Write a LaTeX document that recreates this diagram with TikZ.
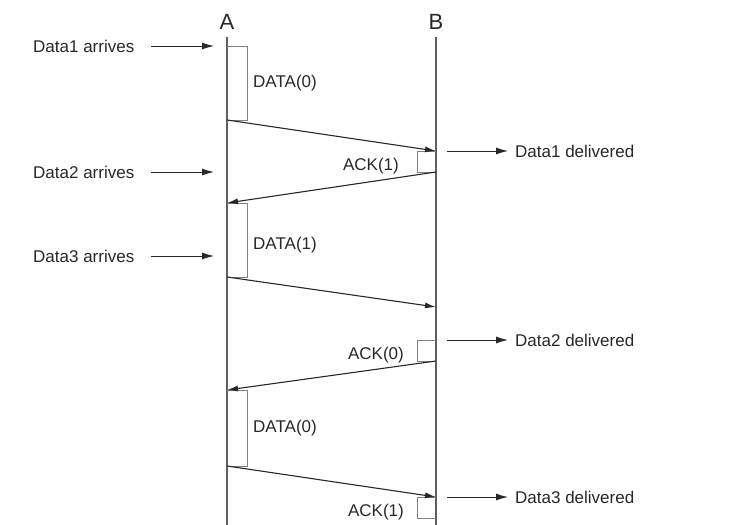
\documentclass[tikz,border=0pt]{standalone}
\usepackage{fontspec}
\setmainfont{Liberation Sans}
\definecolor{inkgray}{RGB}{40,40,40}
\definecolor{linegray}{RGB}{95,95,95}
\definecolor{boxgray}{RGB}{130,130,130}
\usetikzlibrary{arrows.meta,positioning}

\begin{document}
\begin{tikzpicture}[x=1pt, y=-1pt,
      life/.style={draw=linegray, line width=1.8pt},
      msg/.style={-{Latex[length=11pt,width=6pt]}, draw=inkgray, line width=1.1pt},
      note/.style={-{Latex[length=12pt,width=7pt]}, draw=inkgray, line width=0.9pt},
      hold/.style={draw=boxgray, line width=1pt},
      lbl/.style={font=\fontsize{17}{20}\selectfont, text=inkgray, inner sep=0pt},
      head/.style={font=\fontsize{22}{24}\selectfont, text=inkgray, inner sep=0pt}
    ]
    \useasboundingbox (0,0) rectangle (732,525);
    % the two stations
    \node[head] (A) at (227,22) {A};
    \node[head] (B) at (436,22) {B};
    \coordinate (Atop) at (227,37);  \coordinate (Abot) at (227,527);
    \coordinate (Btop) at (436,37);  \coordinate (Bbot) at (436,527);
    \draw[life] (Atop) -- (Abot);
    \draw[life] (Btop) -- (Bbot);

    % points on A: send windows and arrivals
    \coordinate (s1) at (227,46);   \coordinate (s1x) at (227,120);
    \coordinate (s2) at (227,203);  \coordinate (s2x) at (227,277);
    \coordinate (s3) at (227,390);  \coordinate (s3x) at (227,466);
    \coordinate (e2) at (227,172);  \coordinate (e3) at (227,256);
    % points on B: receive and ack
    \coordinate (r1) at (436,151);  \coordinate (k1) at (436,172);
    \coordinate (r2) at (436,307);
    \coordinate (d2) at (436,340);  \coordinate (k2) at (436,361);
    \coordinate (r3) at (436,497);  \coordinate (k3) at (436,518);

    % busy boxes
    \draw[hold] (s1) -- ++(20,0) |- (s1x);
    \draw[hold] (s2) -- ++(20,0) |- (s2x);
    \draw[hold] (s3) -- ++(20,0) |- (s3x);
    \draw[hold] (r1) -- ++(-19,0) |- (k1);
    \draw[hold] (d2) -- ++(-19,0) |- (k2);
    \draw[hold] (r3) -- ++(-19,0) |- (k3);

    % frames and acks
    \draw[msg] (s1x) -- (r1);
    \draw[msg] (k1) -- (s2);
    \draw[msg] (s2x) -- (r2);
    \draw[msg] (k2) -- (s3);
    \draw[msg] (s3x) -- (r3);

    \node[lbl, anchor=west] (f1) at (253,83)  {DATA(0)};
    \node[lbl, anchor=west] (f2) at (253,245) {DATA(1)};
    \node[lbl, anchor=west] (f3) at (253,428) {DATA(0)};
    \node[lbl, anchor=east] (a1) at (399,166) {ACK(1)};
    \node[lbl, anchor=east] (a2) at (404,355) {ACK(0)};
    \node[lbl, anchor=east] (a3) at (404,512) {ACK(1)};

    % left: arrivals
    \node[lbl, anchor=west] (in1) at (33,46)  {Data1 arrives};
    \node[lbl, anchor=west] (in2) at (33,172) {Data2 arrives};
    \node[lbl, anchor=west] (in3) at (33,256) {Data3 arrives};
    \draw[note, shorten <=17pt, shorten >=13pt] (in1.east) -- (s1);
    \draw[note, shorten <=17pt, shorten >=13pt] (in2.east) -- (e2);
    \draw[note, shorten <=17pt, shorten >=13pt] (in3.east) -- (e3);

    % right: deliveries
    \node[lbl, anchor=west] (out1) at (515,151) {Data1 delivered};
    \node[lbl, anchor=west] (out2) at (515,340) {Data2 delivered};
    \node[lbl, anchor=west] (out3) at (515,497) {Data3 delivered};
    \draw[note, shorten <=11pt, shorten >=7pt] (r1) -- (out1.west);
    \draw[note, shorten <=11pt, shorten >=7pt] (d2) -- (out2.west);
    \draw[note, shorten <=11pt, shorten >=7pt] (r3) -- (out3.west);
  \end{tikzpicture}
\end{document}
